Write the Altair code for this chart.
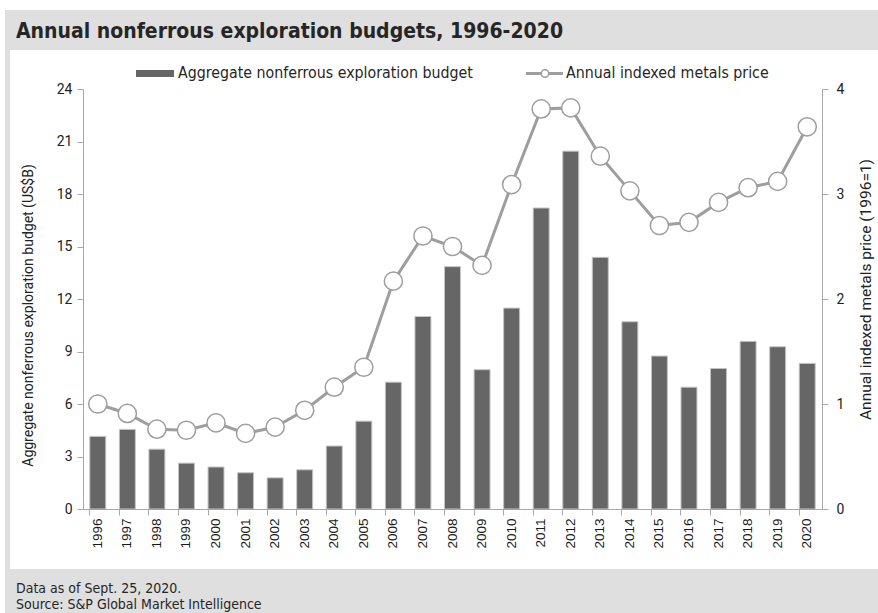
import altair as alt
import pandas as pd

years = ["1996", "1997", "1998", "1999", "2000", "2001", "2002", "2003", "2004",
         "2005", "2006", "2007", "2008", "2009", "2010", "2011", "2012", "2013",
         "2014", "2015", "2016", "2017", "2018", "2019", "2020"]
budget = [4.15, 4.55, 3.42, 2.62, 2.40, 2.07, 1.78, 2.24, 3.60, 5.02, 7.25, 11.0,
          13.85, 7.96, 11.48, 17.2, 20.45, 14.38, 10.7, 8.74, 6.96, 8.03, 9.58, 9.27, 8.32]
price = [1.00, 0.91, 0.76, 0.75, 0.82, 0.72, 0.78, 0.94, 1.16, 1.35, 2.17, 2.60,
         2.50, 2.32, 3.09, 3.81, 3.82, 3.36, 3.03, 2.70, 2.73, 2.92, 3.06, 3.12, 3.64]

title_text = "Annual nonferrous exploration budgets, 1996-2020"
legend_bar = "Aggregate nonferrous exploration budget"
legend_line = "Annual indexed metals price"
left_title = "Aggregate nonferrous exploration budget (US$B)"
right_title = "Annual indexed metals price  (1996=1)"
note1 = "Data as of Sept. 25, 2020."
note2 = "Source: S&P Global Market Intelligence"

df = pd.DataFrame({"year": years, "budget": budget, "price": price})

W, H = 739, 420
COND = "DejaVu Sans Condensed, Roboto Condensed, Roboto"
FONT = "Roboto, Liberation Sans, sans-serif"
GRAY_BG = "#dfdfdf"
AX = "#a8a8a8"
TXT = "#262626"

one = pd.DataFrame({"k": [0]})


def text_layer(s, x, y, size, **kw):
    return alt.Chart(pd.DataFrame({"t": [s]})).mark_text(
        align="left", baseline="alphabetic", font=COND, fontSize=size, color=TXT, **kw
    ).encode(x=alt.value(x), y=alt.value(y), text="t:N")


# frame decorations
frame = alt.Chart(one).mark_rect(color=GRAY_BG).encode(
    x=alt.value(-78), x2=alt.value(W + 56), y=alt.value(-79), y2=alt.value(H + 104))
panel = alt.Chart(one).mark_rect(color="white").encode(
    x=alt.value(-73), x2=alt.value(W + 56), y=alt.value(-39), y2=alt.value(H + 60))

title = text_layer(title_text, -67, -51, 21, fontWeight="bold")
foot1 = text_layer(note1, -67, 504, 14)
foot2 = text_layer(note2, -67, 520, 14)

# legend
leg_swatch = alt.Chart(one).mark_rect(color="#666666").encode(
    x=alt.value(53), x2=alt.value(91), y=alt.value(-19), y2=alt.value(-12))
leg_t1 = text_layer(legend_bar, 95, -11, 15.8)
leg_rule = alt.Chart(one).mark_rule(color="#9e9e9e", strokeWidth=3).encode(
    x=alt.value(443), x2=alt.value(480), y=alt.value(-15.5))
leg_pt = alt.Chart(one).mark_point(filled=True, fill="white", stroke="#9e9e9e",
                                   strokeWidth=1.5, size=55, opacity=1).encode(
    x=alt.value(462), y=alt.value(-15.5))
leg_t2 = text_layer(legend_line, 483, -11, 15.8)

xenc = alt.X("year:N", sort=years, title=None,
             scale=alt.Scale(paddingInner=0.46),
             axis=alt.Axis(bandPosition=0, labelAngle=270,
                           labelAlign="right", labelBaseline="middle",
                           labelFont="Liberation Sans", labelFontSize=13.5,
                           labelColor="#1a1a1a", labelPadding=3, zindex=1,
                           domainColor=AX, tickColor=AX, tickSize=6))

bars = alt.Chart(df).mark_bar(color="#666666", stroke="#c4c4c4", strokeWidth=1).encode(
    x=xenc,
    y=alt.Y("budget:Q", scale=alt.Scale(domain=[0, 24], nice=False),
            axis=alt.Axis(orient="left", values=[0, 3, 6, 9, 12, 15, 18, 21, 24],
                          grid=False, domainColor=AX, tickColor=AX, tickSize=6,
                          labelFont=FONT, labelFontSize=14, labelColor="#222",
                          labelPadding=5, title=left_title, titleFont=FONT,
                          titleFontSize=14, titleFontWeight="normal", zindex=1,
                          titleColor="#222", titleAngle=270, titleBaseline="middle",
                          titleX=-55, titleY=226)),
)

line = alt.Chart(df).mark_line(
    color="#9e9e9e", strokeWidth=3,
    point=alt.OverlayMarkDef(filled=True, fill="white", stroke="#9e9e9e",
                             strokeWidth=1.5, size=330, opacity=1),
).encode(
    x=alt.X("year:N", sort=years),
    y=alt.Y("price:Q", scale=alt.Scale(domain=[0, 4], nice=False),
            axis=alt.Axis(orient="right", values=[0, 1, 2, 3, 4], grid=False,
                          domainColor=AX, tickColor=AX, tickSize=6, zindex=1,
                          labelFont=FONT, labelFontSize=14, labelColor="#222",
                          labelPadding=8, title=right_title, titleFont=FONT,
                          titleFontSize=15.5, titleFontWeight="normal",
                          titleColor="#222", titleAngle=270, titleBaseline="middle",
                          titleX=43, titleY=200)),
)

data_layer = alt.layer(bars, line).resolve_scale(y="independent")

chart = alt.layer(
    frame, panel, title, foot1, foot2, leg_swatch, leg_t1, leg_rule, leg_pt, leg_t2,
    data_layer,
).properties(
    width=W, height=H,
    autosize=alt.AutoSizeParams(type="none"),
    padding={"left": 83, "top": 89, "right": 56, "bottom": 104},
    background="white",
).configure_view(stroke=None)

chart.save("out.html", embed_options={"renderer": "svg", "actions": False})
